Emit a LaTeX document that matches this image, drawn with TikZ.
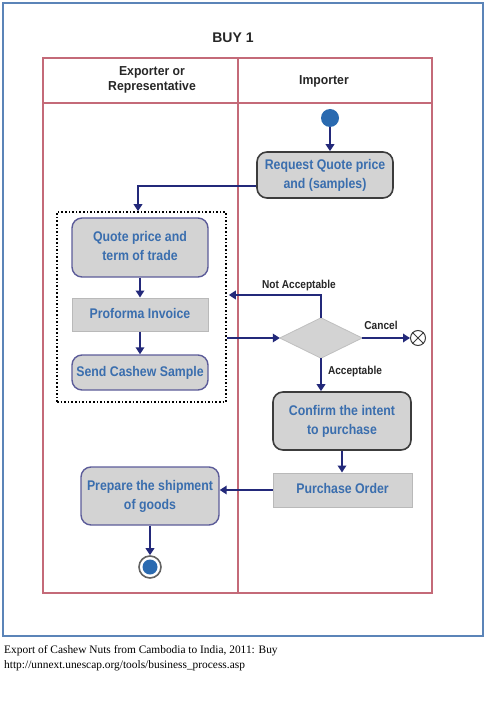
\documentclass[tikz,border=0pt]{standalone}
\usepackage{fontspec}
\usepackage{graphicx}
\setmainfont{Liberation Sans}
\newfontfamily\capfont{Liberation Serif}
\usetikzlibrary{arrows.meta}
\definecolor{boxfill}{HTML}{D3D3D3}
\definecolor{txtblue}{HTML}{3A6EAE}
\definecolor{navy}{HTML}{23297A}
\definecolor{redline}{HTML}{C46A78}
\definecolor{frameblue}{HTML}{5B84B8}
\definecolor{startblue}{HTML}{2A6AB0}
\definecolor{darkbord}{HTML}{3C3C3C}
\definecolor{purpbord}{HTML}{5C5C99}
\newcommand\sq[2][0.88]{\scalebox{#1}[1]{\begin{tabular}{@{}c@{}}#2\end{tabular}}}
\tikzset{
  act/.style={rounded corners=10pt, fill=boxfill, inner sep=0pt,
    font=\bfseries\fontsize{14}{19}\selectfont, text=txtblue},
  actdark/.style={act, draw=darkbord, line width=1.6pt},
  actpurp/.style={act, draw=purpbord, line width=1.4pt},
  docbox/.style={fill=boxfill, draw=gray!55, line width=1pt, inner sep=0pt,
    font=\bfseries\fontsize{14}{19}\selectfont, text=txtblue},
  flow/.style={draw=navy, line width=2.6pt, -{Triangle[length=7pt,width=8.5pt]}},
  lbl/.style={font=\bfseries\fontsize{11.5}{13}\selectfont, text=black!85, inner sep=0pt},
  hdr/.style={font=\bfseries\fontsize{13}{15}\selectfont, text=black!85, inner sep=0pt},
  lane/.style={draw=redline, line width=1.2pt}
}
\begin{document}
\begin{tikzpicture}[x=1pt,y=-1pt]
\useasboundingbox (0,0) rectangle (485,711);
% outer frame
\draw[frameblue, line width=2pt] (2.5,3) rectangle (483,636);
\node[font=\bfseries\fontsize{14}{15}\selectfont, text=black!85] (title) at (233,38) {BUY 1};
% swimlanes
\draw[lane] (43,58) rectangle (432,593);
\draw[lane] (43,103) -- (432,103);
\draw[lane] (238,58) -- (238,593);
\node[hdr] (h1) at (152,80) {\sq[0.94]{Exporter or\\Representative}};
\node[hdr] (h2) at (324,82) {\sq[0.94]{Importer}};
% start
\node[circle, fill=startblue, minimum size=18pt, inner sep=0pt] (start) at (330,118) {};
% activities
\node[actdark, minimum width=136pt, minimum height=46pt] (req) at (325,175) {\sq{Request Quote price\\and (samples)}};
\node[draw=black, dotted, line width=1.6pt, minimum width=169pt, minimum height=190pt, inner sep=0pt] (grp) at (141.5,307) {};
\node[actpurp, minimum width=136pt, minimum height=59pt] (quote) at (140,247.5) {\sq{Quote price and\\term of trade}};
\node[docbox, minimum width=136pt, minimum height=33pt] (pro) at (140,314.5) {\sq{Proforma Invoice}};
\node[actpurp, minimum width=136pt, minimum height=35pt] (send) at (140,372.5) {\sq{Send Cashew Sample}};
% decision
\node[minimum width=82pt, minimum height=40pt, inner sep=0pt] (dia) at (321,338) {};
\draw[fill=boxfill, draw=gray!50, line width=0.8pt] (dia.north) -- (dia.east) -- (dia.south) -- (dia.west) -- cycle;
\node[circle, draw=darkbord, line width=1pt, minimum size=15pt, inner sep=0pt] (cancel) at (418,338) {};
\draw[darkbord, line width=1pt] (cancel.north east) -- (cancel.south west) (cancel.north west) -- (cancel.south east);
\node[actdark, minimum width=138pt, minimum height=58pt] (conf) at (342,421) {\sq{Confirm the intent\\to purchase}};
\node[docbox, minimum width=139pt, minimum height=34pt] (po) at (342.5,490) {\sq{Purchase Order}};
\node[actpurp, minimum width=138pt, minimum height=58pt] (prep) at (150,496) {\sq{Prepare the shipment\\of goods}};
% end
\node[circle, draw=darkbord!80, line width=1.6pt, fill=white, minimum size=22pt, inner sep=0pt] (endc) at (150,567) {};
\node[circle, fill=startblue, minimum size=15pt, inner sep=0pt] (endin) at (endc) {};
% flows
\draw[flow] (start) -- (req.north -| start);
\draw[flow] ([yshift=-11pt]req.west) -| ([xshift=-3.5pt]grp.north);
\draw[flow] (quote.south) -- (pro.north);
\draw[flow] (pro.south) -- (send.north);
\draw[flow] (grp.east |- dia.west) -- (dia.west);
\draw[flow] (dia.north) |- ([yshift=12pt,xshift=2pt]grp.east);
\draw[flow] (dia.east) -- (cancel.west);
\draw[flow] (dia.south) -- (conf.north -| dia.south);
\draw[flow] (conf.south) -- (po.north -| conf.south);
\draw[flow] (po.west) -- (prep.east |- po.west);
\draw[flow] (prep.south) -- (endc.north);
% labels
\node[lbl] (lna) at (299,286) {\sq{Not Acceptable}};
\node[lbl] (lc) at (381,327) {\sq{Cancel}};
\node[lbl] (la) at (355,372) {\sq{Acceptable}};
% caption
\node[anchor=base west, inner sep=0pt, font=\capfont\fontsize{11.4}{13}\selectfont] (cap1) at (4,653) {Export of Cashew Nuts from Cambodia to India, 2011: Buy};
\node[anchor=base west, inner sep=0pt, font=\capfont\fontsize{11.4}{13}\selectfont] (cap2) at (4,668) {http://unnext.unescap.org/tools/business\_process.asp};
\end{tikzpicture}
\end{document}
